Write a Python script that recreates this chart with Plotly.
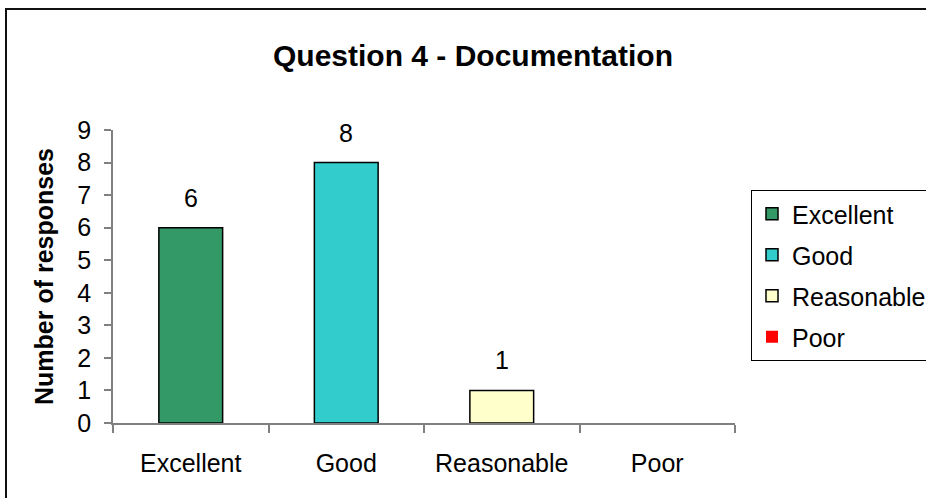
import plotly.graph_objects as go

categories = ["Excellent", "Good", "Reasonable", "Poor"]
responses = [6, 8, 1, 0]
colors = ["#339966", "#33CCCC", "#FFFFCC", "#FF0000"]
y_ticks = list(range(0, 10))

FONT = "Liberation Sans, Arial, sans-serif"

W, H = 926, 498
L, R, T, B = 113, 735, 130, 423
pw, ph = R - L, B - T

def px_x(p):
    return (p - L) / pw

def px_y(p):
    return (B - p) / ph

fig = go.Figure()
for i, (cat, val, col) in enumerate(zip(categories, responses, colors)):
    fig.add_trace(go.Bar(
        x=[cat], y=[val], name=cat,
        marker=dict(color=col, line=dict(color="#000000", width=1.5 if val > 0 else 0)),
        width=0.41, legendgroup=f"g{i}",
        hoverinfo="x+y",
    ))
    if val > 0:
        fig.add_annotation(x=cat, y=val, text=str(val), showarrow=False,
                           yanchor="middle", yshift=30,
                           font=dict(family=FONT, size=25, color="#000000"))

fig.update_layout(
    width=W, height=H,
    margin=dict(l=L, r=W - R, t=T, b=H - B, autoexpand=False),
    paper_bgcolor="#FFFFFF", plot_bgcolor="#FFFFFF",
    barmode="overlay",
    font=dict(family=FONT, size=25, color="#000000"),
    title=dict(text="<b>Question 4 - Documentation</b>",
               x=473 / W, xref="container", xanchor="center",
               y=1 - 55 / H, yref="container", yanchor="middle",
               font=dict(family=FONT, size=30, color="#000000")),
    showlegend=True,
    legend=dict(x=px_x(751), y=px_y(190), xanchor="left", yanchor="top",
                bordercolor="#000000", borderwidth=1, bgcolor="#FFFFFF",
                font=dict(family=FONT, size=25, color="#000000"),
                tracegroupgap=5.5, traceorder="grouped"),
    xaxis=dict(type="category", categoryorder="array", categoryarray=categories,
               range=[-0.5, 3.5], showline=True, linecolor="#808080", linewidth=1.5,
               ticks="outside", tickson="boundaries", ticklen=8, tickcolor="#808080",
               tickwidth=1.5, showgrid=False, zeroline=False, ticklabelstandoff=17,
               tickfont=dict(family=FONT, size=25, color="#000000")),
    yaxis=dict(range=[0, 9], tickvals=y_ticks, showline=True, linecolor="#808080",
               linewidth=1.5, ticks="outside", ticklen=7, tickcolor="#808080",
               tickwidth=1.5, showgrid=False, zeroline=False, ticklabelstandoff=8,
               tickfont=dict(family=FONT, size=25, color="#000000"),
               title=dict(text="<b>Number of responses</b>", standoff=17,
                          font=dict(family=FONT, size=25, color="#000000"))),
)

fig.add_shape(type="rect", xref="paper", yref="paper",
              x0=px_x(6), x1=px_x(W + 20), y0=px_y(9), y1=px_y(H + 20),
              line=dict(color="#111111", width=2), fillcolor="rgba(0,0,0,0)",
              layer="below")

fig.write_html("out.html", config={"displayModeBar": False},
               post_script="document.body.style.margin='0';")
